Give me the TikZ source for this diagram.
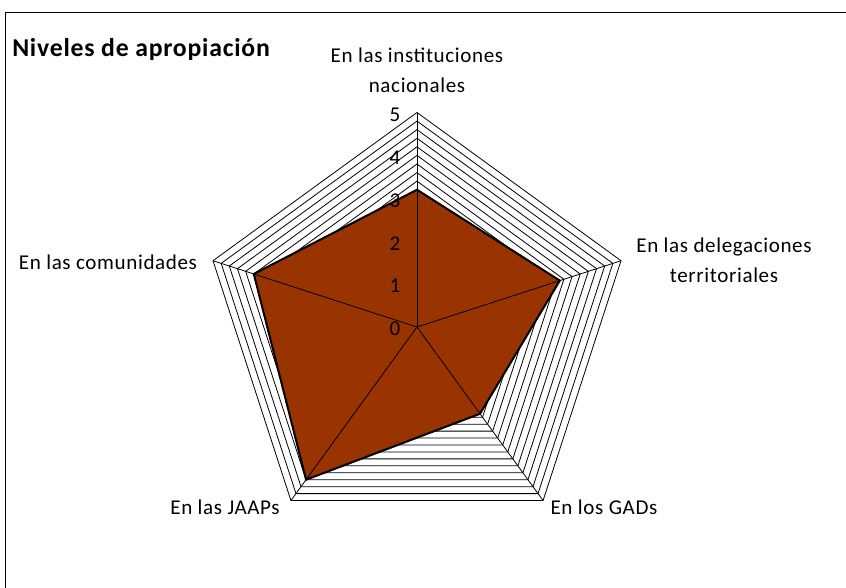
\documentclass[tikz,border=0pt]{standalone}
\usepackage{fontspec}
\setmainfont{Carlito}[LetterSpace=3]
\usetikzlibrary{positioning}
\usetikzlibrary{calc}
\definecolor{apropiacion}{RGB}{153,51,0}

\begin{document}
\begin{tikzpicture}[x=0.75pt,y=-0.75pt]
	\tikzset{axislabel/.style = {align=center, inner sep=0pt, font=\fontsize{15.8}{22.5}\selectfont},
		scalelabel/.style = {inner sep=0pt, font=\fontsize{15.8}{18}\selectfont},
		titulo/.style = {inner sep=0pt, font=\fontsize{19.3}{22}\selectfont\bfseries},
		grid/.style = {line width=0.6pt, line join=miter},
		spoke/.style = {line width=0.6pt},
		datos/.style = {fill=apropiacion, draw=black, line width=1.5pt, line join=miter}}
	\useasboundingbox (0,0) rectangle (846,587);
	\clip (0,0) rectangle (846,587);
	\draw[line width=0.9pt] (5.5,600) -- (5.5,12.5) -- (860,12.5);
	
	\begin{scope}[shift={(417,327)}]
		\coordinate (O) at (0,0);
		\foreach \k in {1,...,25}
			\draw[grid] (-90:\k*8.58) -- (-18:\k*8.58) -- (54:\k*8.58) -- (126:\k*8.58) -- (198:\k*8.58) -- cycle;
		
		\coordinate (nac) at (-90:214.5);
		\coordinate (del) at (-18:214.5);
		\coordinate (gad) at (54:214.5);
		\coordinate (jaap) at (126:214.5);
		\coordinate (com) at (198:214.5);
		
		\coordinate (dnac) at (-90:3.2*42.9);
		\coordinate (ddel) at (-18:3.5*42.9);
		\coordinate (dgad) at (54:2.5*42.9);
		\coordinate (djaap) at (126:4.4*42.9);
		\coordinate (dcom) at (198:4.0*42.9);
		
		\draw[datos] (dnac) -- (ddel) -- (dgad) -- (djaap) -- (dcom) -- cycle;
		\foreach \p in {nac,del,gad,jaap,com}
			\draw[spoke] (O) -- (\p);
		
		\foreach \v in {0,...,5}
			\node[scalelabel] (s\v) at (-22,-42.9*\v+2) {\v};
	\end{scope}
	
	\node[titulo, anchor=west] (tit) at (12,49) {Niveles de apropiación};
	\node[axislabel] (lnac) at (417,70.5) {En las instituciones\\nacionales};
	\node[axislabel] (ldel) at (724,260.5) {En las delegaciones\\territoriales};
	\node[axislabel] (lcom) at (108,262) {En las comunidades};
	\node[axislabel] (ljaap) at (225,507) {En las JAAPs};
	\node[axislabel] (lgad) at (604,507) {En los GADs};
	
\end{tikzpicture}
\end{document}
